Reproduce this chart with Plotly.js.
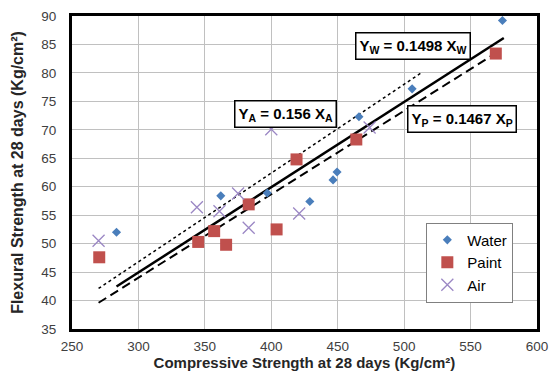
<!DOCTYPE html>
<html>
<head>
<meta charset="utf-8">
<script src="https://cdn.plot.ly/plotly-3.0.1.min.js"></script>
<style>
html,body{margin:0;padding:0;background:#fff;}
#chart{width:549px;height:382px;}
</style>
</head>
<body>
<div id="chart"></div>
<script>
// Data
const waterX = [283.5, 362, 397, 429, 446.5, 449.5, 466, 506, 574];
const waterY = [52.0, 58.4, 58.9, 57.4, 61.2, 62.6, 72.3, 77.2, 89.2];
const paintX = [270.5, 345, 357, 366, 383, 404, 419, 464, 569];
const paintY = [47.6, 50.3, 52.2, 49.8, 56.9, 52.5, 64.8, 68.3, 83.4];
const airX = [270, 344, 361, 375, 383, 400, 421, 474];
const airY = [50.5, 56.4, 55.7, 58.8, 52.8, 70.1, 55.3, 70.4];

// Fitted lines (through origin): slope and x extent
const waterSlope = 0.1498, waterFitX = [283.5, 575];
const paintSlope = 0.1467, paintFitX = [270, 570];
const airSlope = 0.156, airFitX = [270, 513];

const xTicks = [250, 300, 350, 400, 450, 500, 550, 600];
const yTicks = [35, 40, 45, 50, 55, 60, 65, 70, 75, 80, 85, 90];

const fit = (s, xs) => xs.map(x => s * x);

const traces = [
  {x: waterFitX, y: fit(waterSlope, waterFitX), mode: 'lines', line: {color: '#000', width: 2.5}, showlegend: false, hoverinfo: 'skip'},
  {x: paintFitX, y: fit(paintSlope, paintFitX), mode: 'lines', line: {color: '#000', width: 2, dash: '9px,5px'}, showlegend: false, hoverinfo: 'skip'},
  {x: airFitX, y: fit(airSlope, airFitX), mode: 'lines', line: {color: '#000', width: 1.5, dash: 'dot'}, showlegend: false, hoverinfo: 'skip'},
  {x: waterX, y: waterY, name: 'Water', mode: 'markers', marker: {symbol: 'diamond', size: 7, color: '#4A7EBB'}},
  {x: paintX, y: paintY, name: 'Paint', mode: 'markers', marker: {symbol: 'square', size: 12, color: '#C0504D'}},
  {x: airX, y: airY, name: 'Air', mode: 'markers', marker: {symbol: 'x-thin-open', size: 12, color: '#9B87C4', line: {width: 1.3, color: '#9B87C4'}}}
];

const annFont = {family: 'Arial, Liberation Sans, sans-serif', size: 15, color: '#000'};
const ann = (x, y, t) => ({x: x, y: y, xref: 'x', yref: 'y', text: t, showarrow: false,
  bgcolor: '#fff', bordercolor: '#000', borderwidth: 1.5, borderpad: 3, font: annFont});

const layout = {
  width: 549, height: 382,
  margin: {l: 72, r: 12, t: 16, b: 53},
  paper_bgcolor: '#fff', plot_bgcolor: '#fff',
  font: {family: 'Arial, Liberation Sans, sans-serif', size: 13, color: '#404040'},
  xaxis: {
    range: [250, 600], tickvals: xTicks, ticktext: xTicks.map(String),
    showgrid: true, gridcolor: '#c0c0c0', gridwidth: 1, zeroline: false,
    showline: true, linecolor: '#000', linewidth: 3, mirror: true,
    ticks: 'outside', ticklen: 3, tickcolor: 'rgba(0,0,0,0)',
    tickfont: {size: 13.5, color: '#404040'},
    title: {text: '<b>Compressive Strength at 28 days (Kg/cm²)</b>', font: {size: 15, color: '#262626'}, standoff: 5}
  },
  yaxis: {
    range: [35, 90], tickvals: yTicks, ticktext: yTicks.map(String),
    showgrid: true, gridcolor: '#c0c0c0', gridwidth: 1, zeroline: false,
    showline: true, linecolor: '#000', linewidth: 3, mirror: true,
    ticks: 'outside', ticklen: 10, tickcolor: 'rgba(0,0,0,0)',
    tickfont: {size: 13.5, color: '#404040'},
    title: {text: '<b>Flexural Strength at 28 days (Kg/cm²)</b>', font: {size: 16, color: '#262626'}, standoff: 14}
  },
  legend: {
    x: 0.762, y: 0.34, xanchor: 'left', yanchor: 'top',
    bgcolor: '#fff', bordercolor: '#808080', borderwidth: 1,
    font: {size: 15, color: '#000'}, tracegroupgap: 0, itemwidth: 30
  },
  annotations: [
    ann(506.8, 84.7, '<b>Y<sub>W</sub> = 0.1498 X<sub>W</sub></b>'),
    ann(410.7, 72.8, '<b>Y<sub>A</sub> = 0.156 X<sub>A</sub></b>'),
    ann(543.5, 71.95, '<b>Y<sub>P</sub> = 0.1467 X<sub>P</sub></b>')
  ],
  showlegend: true
};

Plotly.newPlot('chart', traces, layout, {displayModeBar: false, staticPlot: true});
</script>
</body>
</html>
